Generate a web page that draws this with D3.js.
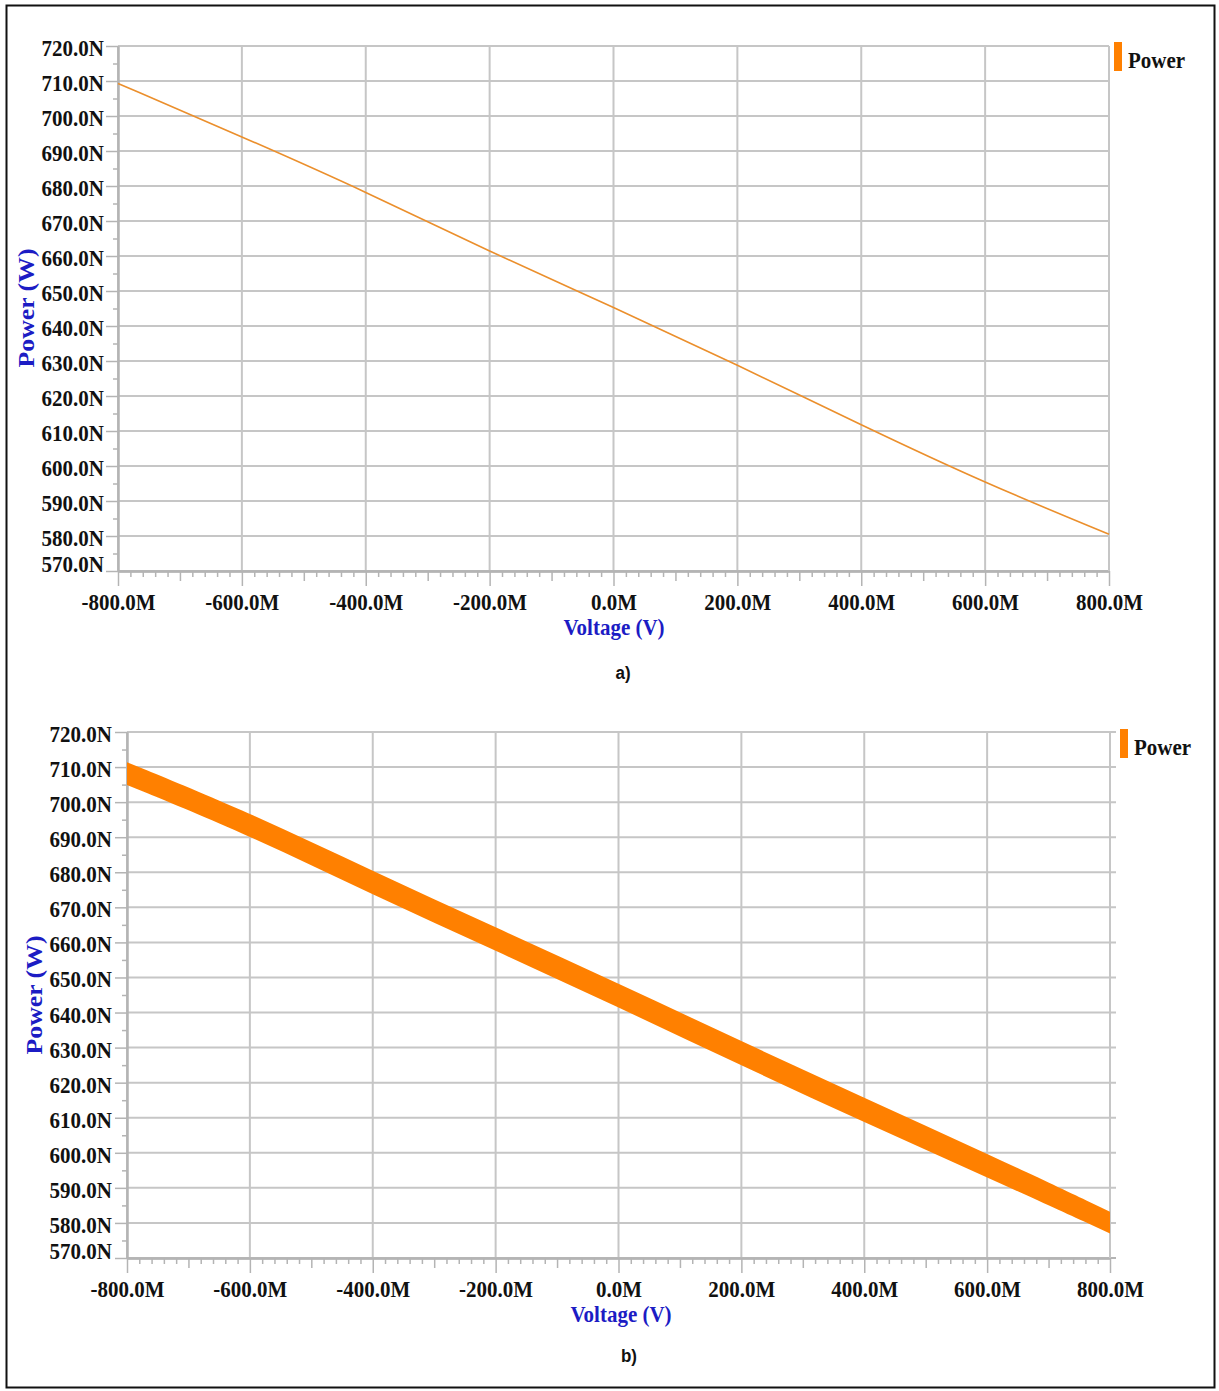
<!DOCTYPE html>
<html>
<head>
<meta charset="utf-8">
<script src="https://cdn.jsdelivr.net/npm/d3@7/dist/d3.min.js"></script>
<style>
  html, body { margin: 0; padding: 0; background: #fff; }
  svg { display: block; }
</style>
</head>
<body>
<svg id="fig" width="1219" height="1391"></svg>
<script>
// Sweep of the supply voltage (mV, shown with an "M" suffix) against power (nW, "N" suffix)
const voltageTicks = [-800, -600, -400, -200, 0, 200, 400, 600, 800];
const powerTicks = [570, 580, 590, 600, 610, 620, 630, 640, 650, 660, 670, 680, 690, 700, 710, 720];

// a) single simulation trace
const voltageA = [-800, -600, -400, -200, 0, 200, 400, 600, 800];
const powerA = [709.3, 694.1, 678.4, 661.2, 645.4, 628.9, 611.7, 595.1, 580.5];

// b) spread of traces, upper and lower envelope
const voltageB = [-800, -600, -400, -200, 0, 200, 400, 600, 800];
const powerBUpper = [711.4, 697.0, 680.3, 664.3, 648.3, 631.8, 615.7, 599.8, 583.2];
const powerBLower = [704.9, 690.5, 673.6, 657.6, 641.5, 624.9, 608.7, 593.0, 577.0];

const seriesName = "Power";
const xTitle = "Voltage (V)";
const yTitle = "Power (W)";

const STRETCH = 1.12;            // labels are drawn slightly tall
const SERIF = "'Liberation Serif', 'Times New Roman', serif";
const GRID = "#c6c6c6";
const AXIS = "#b4b4b4";
const TITLE_BLUE = "#1c1cc4";

const svg = d3.select("#fig");

// outer frame
svg.append("rect")
  .attr("x", 6.5).attr("y", 5.5).attr("width", 1208).attr("height", 1382)
  .attr("fill", "none").attr("stroke", "#111").attr("stroke-width", 2);

function tallText(g, x, y, str, opts) {
  return g.append("text")
    .attr("transform", `translate(${x},${y}) scale(1,${STRETCH})${opts.rotate ? " rotate(" + opts.rotate + ")" : ""}`)
    .attr("text-anchor", opts.anchor || "start")
    .attr("font-family", opts.family || SERIF)
    .attr("font-weight", "bold")
    .attr("font-size", opts.size || 21)
    .attr("fill", opts.fill || "#111")
    .text(str);
}

function drawPanel(cfg) {
  const g = svg.append("g");
  const x = d3.scaleLinear().domain([-800, 800]).range([cfg.left, cfg.right]);
  const y = d3.scaleLinear().domain([570, 720]).range([cfg.bottom, cfg.top]);

  // grid
  g.append("g").selectAll("line").data(powerTicks).join("line")
    .attr("x1", cfg.left).attr("x2", cfg.right + cfg.gridExtra)
    .attr("y1", d => y(d)).attr("y2", d => y(d))
    .attr("stroke", GRID).attr("stroke-width", 2);
  g.append("g").selectAll("line").data(voltageTicks).join("line")
    .attr("x1", d => x(d)).attr("x2", d => x(d))
    .attr("y1", cfg.top).attr("y2", cfg.bottom)
    .attr("stroke", GRID).attr("stroke-width", 2);

  const styleAxis = sel => {
    sel.selectAll("path.domain").attr("stroke", AXIS).attr("stroke-width", 2);
    sel.selectAll(".tick line").attr("stroke", AXIS).attr("stroke-width", 1.5);
    sel.attr("font-family", SERIF).attr("font-size", 21).attr("font-weight", "bold");
  };

  // y axis: minor ticks, then major ticks with labels
  const yMinor = d3.range(575, 720, 10);
  g.append("g").attr("transform", `translate(${cfg.left},0)`)
    .call(d3.axisLeft(y).tickValues(yMinor).tickSize(5).tickSizeOuter(0).tickFormat(""))
    .call(styleAxis);
  const yAx = g.append("g").attr("transform", `translate(${cfg.left},0)`)
    .call(d3.axisLeft(y).tickValues(powerTicks).tickSize(12).tickSizeOuter(0)
      .tickPadding(cfg.left - cfg.yLabelRight - 12)
      .tickFormat(d => d.toFixed(1) + "N"))
    .call(styleAxis);
  yAx.selectAll(".tick text")
    .attr("fill", "#111").attr("dy", null)
    .attr("y", d => (d === 570 ? 0 : 9.5) / STRETCH)
    .attr("transform", `scale(1,${STRETCH})`);

  // x axis: 20M minor, 100M mid, 200M major with labels
  const xBase = `translate(0,${cfg.bottom})`;
  const xMinor = d3.range(-780, 800, 20).filter(v => v % 100 !== 0);
  const xMid = d3.range(-700, 800, 200);
  g.append("g").attr("transform", xBase)
    .call(d3.axisBottom(x).tickValues(xMinor).tickSize(6).tickSizeOuter(0).tickFormat(""))
    .call(styleAxis);
  g.append("g").attr("transform", xBase)
    .call(d3.axisBottom(x).tickValues(xMid).tickSize(10).tickSizeOuter(0).tickFormat(""))
    .call(styleAxis);
  const xAx = g.append("g").attr("transform", xBase)
    .call(d3.axisBottom(x).tickValues(voltageTicks).tickSize(15).tickSizeOuter(0)
      .tickFormat(d => d.toFixed(1) + "M"))
    .call(styleAxis);
  xAx.selectAll(".tick text")
    .attr("fill", "#111").attr("dy", null)
    .attr("y", 39 / STRETCH)
    .attr("transform", `scale(1,${STRETCH})`);
  if (cfg.gridExtra) {
    g.append("line")
      .attr("x1", cfg.right).attr("x2", cfg.right + cfg.gridExtra)
      .attr("y1", cfg.bottom).attr("y2", cfg.bottom)
      .attr("stroke", AXIS).attr("stroke-width", 2);
  }
  // right edge of the plot
  g.append("line")
    .attr("x1", cfg.right).attr("x2", cfg.right)
    .attr("y1", cfg.top).attr("y2", cfg.bottom)
    .attr("stroke", GRID).attr("stroke-width", 2);

  // data
  cfg.drawData(g, x, y);

  // titles
  tallText(g, cfg.xTitleX, cfg.xTitleY, xTitle, { anchor: "middle", fill: TITLE_BLUE });
  tallText(g, cfg.yTitleX, cfg.yTitleY, yTitle, { anchor: "middle", fill: TITLE_BLUE, rotate: -90, size: 23 });
  tallText(g, cfg.capX, cfg.capY, cfg.caption,
    { anchor: "middle", family: "'Liberation Sans', Arial, sans-serif", size: 17 });

  // legend
  g.append("rect")
    .attr("x", cfg.legX).attr("y", cfg.legY).attr("width", 8).attr("height", 29)
    .attr("fill", "#ff8000");
  tallText(g, cfg.legX + 14, cfg.legY + 25.5, seriesName, {});
}

drawPanel({
  left: 118, right: 1109, top: 46, bottom: 571, gridExtra: 0,
  yLabelRight: 104,
  xTitleX: 614, xTitleY: 635, yTitleX: 34, yTitleY: 308,
  capX: 623, capY: 679, caption: "a)",
  legX: 1114, legY: 42,
  drawData: (g, x, y) => {
    const pts = voltageA.map((v, i) => ({ v, p: powerA[i] }));
    g.append("path").datum(pts)
      .attr("fill", "none").attr("stroke", "#eb8f2c").attr("stroke-width", 1.6)
      .attr("d", d3.line().x(d => x(d.v)).y(d => y(d.p)).curve(d3.curveBasis));
  }
});

drawPanel({
  left: 127, right: 1110, top: 732, bottom: 1258, gridExtra: 6,
  yLabelRight: 112,
  xTitleX: 621, xTitleY: 1322, yTitleX: 42, yTitleY: 995,
  capX: 629, capY: 1362, caption: "b)",
  legX: 1120, legY: 729,
  drawData: (g, x, y) => {
    const pts = voltageB.map((v, i) => ({ v, hi: powerBUpper[i], lo: powerBLower[i] }));
    g.append("path").datum(pts)
      .attr("fill", "#ff8000")
      .attr("d", d3.area().x(d => x(d.v)).y0(d => y(d.lo)).y1(d => y(d.hi)).curve(d3.curveBasis));
  }
});
</script>
</body>
</html>
